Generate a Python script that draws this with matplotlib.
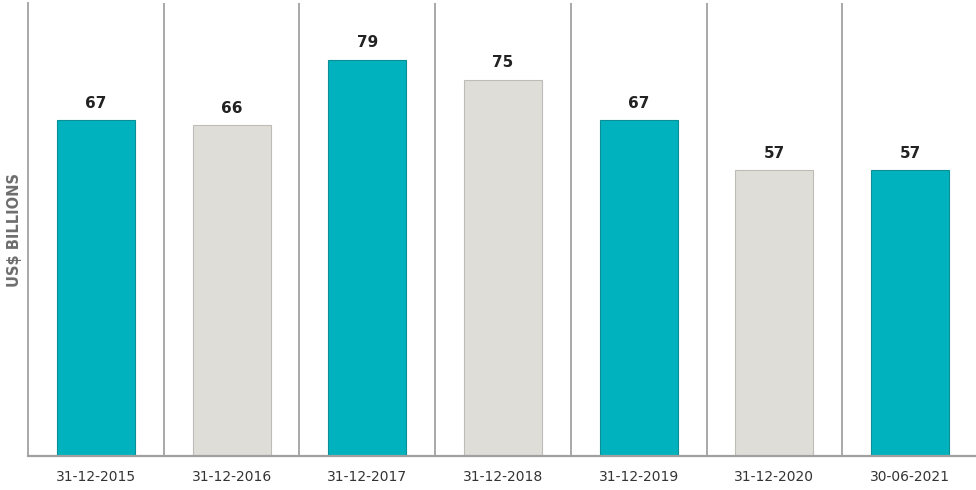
import matplotlib.pyplot as plt
import numpy as np

dates = ['31-12-2015', '31-12-2016', '31-12-2017', '31-12-2018',
         '31-12-2019', '31-12-2020', '30-06-2021']
values = [67, 66, 79, 75, 67, 57, 57]

teal = '#00B2BE'
grey = '#DEDDD8'
colors = [teal, grey, teal, grey, teal, grey, teal]
edges = ['#0A8F99', '#BDBCB7', '#0A8F99', '#BDBCB7', '#0A8F99', '#BDBCB7', '#0A8F99']


def main():
	fig = plt.figure(figsize=(9.76, 4.90), dpi=100)
	ax = fig.add_axes([28 / 976, 34 / 490, 950 / 976, 453 / 490])

	x = np.arange(len(dates))
	ax.bar(x, values, width=0.575, color=colors, edgecolor=edges, linewidth=0.8)

	for xi, v in zip(x, values):
		ax.annotate(str(v), (xi, v), xytext=(0, 7), textcoords='offset points',
					ha='center', va='bottom', fontsize=11, fontweight='bold',
					color='#222222')

	# separators between categories
	for sep in x[:-1] + 0.5:
		ax.axvline(sep, color='#A8A8A8', linewidth=1.4)

	ax.set_xlim(-0.5, len(dates) - 0.5)
	ax.set_ylim(0, 90.4)

	ax.set_xticks(x)
	ax.set_xticklabels(dates, fontsize=10, color='#333333')
	ax.tick_params(axis='x', length=0, pad=10)
	ax.set_yticks([])

	for s in ['top', 'right']:
		ax.spines[s].set_visible(False)
	ax.spines['left'].set_color('#A8A8A8')
	ax.spines['left'].set_linewidth(1.4)
	ax.spines['bottom'].set_color('#A0A0A0')
	ax.spines['bottom'].set_linewidth(1.6)

	ax.set_ylabel('US$ BILLIONS', fontsize=10.5, fontweight='bold', color='#6E6E6E',
				  labelpad=4)

	fig.savefig('out.png', dpi=100)


if __name__ == '__main__':
	main()
